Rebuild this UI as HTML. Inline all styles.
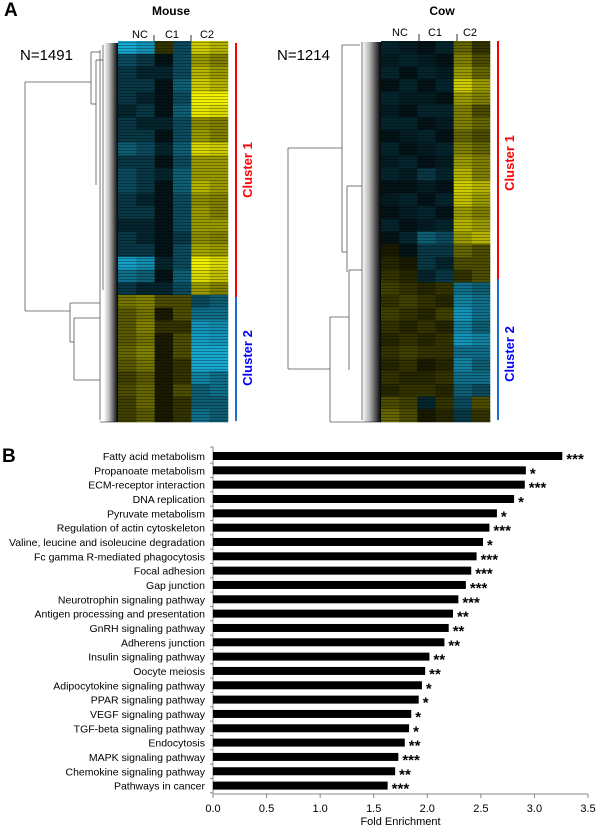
<!DOCTYPE html>
<html><head><meta charset="utf-8"><style>
body{margin:0;background:#fff;}
svg{display:block;font-family:"Liberation Sans",Arial,sans-serif;}
</style></head><body>
<svg id="fig" width="600" height="831" viewBox="0 0 600 831" xmlns="http://www.w3.org/2000/svg">
<defs>
<pattern id="stripes" width="6" height="3" patternUnits="userSpaceOnUse">
<rect x="0" y="0" width="6" height="1" fill="#000" opacity="0.3"/>
</pattern>
<linearGradient id="dendroDark" x1="0" x2="1" y1="0" y2="0">
<stop offset="0" stop-color="#000" stop-opacity="0"/>
<stop offset="0.4" stop-color="#000" stop-opacity="0.3"/>
<stop offset="1" stop-color="#000" stop-opacity="1"/>
</linearGradient>
</defs>
<text x="4" y="16" font-size="19" font-weight="bold">A</text>
<text x="2" y="462" font-size="19" font-weight="bold">B</text>
<g id="panelA"></g>
<g id="panelB"></g>
</svg>
<script>
// ---------- Panel A heatmap data (row bands × 6 columns: NC,NC,C1,C1,C2,C2) ----------
const mouseRows = [
[-0.9,-0.8,0.2,-0.4,0.8,0.7],[-0.4,-0.3,-0.1,-0.4,0.6,0.5],[-0.3,-0.2,-0.2,-0.4,0.7,0.6],
[-0.3,-0.3,-0.1,-0.5,0.8,0.7],[-0.3,-0.2,-0.1,-0.4,0.95,0.95],[-0.2,-0.3,-0.1,-0.5,0.9,0.85],
[-0.3,-0.2,-0.2,-0.4,0.55,0.5],[-0.3,-0.3,-0.1,-0.4,0.6,0.5],[-0.5,-0.4,-0.2,-0.5,0.85,0.8],
[-0.3,-0.3,-0.1,-0.4,0.6,0.6],[-0.4,-0.3,-0.2,-0.5,0.6,0.6],[-0.4,-0.3,-0.1,-0.5,0.7,0.6],
[-0.3,-0.2,-0.1,-0.4,0.55,0.5],[-0.3,-0.3,-0.1,-0.4,0.6,0.5],[-0.2,-0.2,-0.1,-0.4,0.6,0.6],
[-0.3,-0.2,-0.1,-0.3,0.55,0.5],[-0.3,-0.3,-0.1,-0.4,0.65,0.6],[-0.85,-0.75,-0.2,-0.4,0.95,0.85],
[-0.6,-0.5,-0.1,-0.5,0.85,0.75],[-0.3,-0.2,-0.2,-0.4,0.6,0.5],
[0.45,0.5,0.3,0.3,-0.4,-0.5],[0.35,0.45,0.1,0.3,-0.6,-0.6],[0.35,0.5,0.2,0.2,-0.8,-0.75],
[0.35,0.45,0.1,0.3,-0.85,-0.8],[0.4,0.5,0.1,0.3,-0.9,-0.9],[0.35,0.45,0.1,0.2,-0.9,-0.9],
[0.25,0.35,0.1,0.2,-0.7,-0.6],[0.3,0.4,0.1,0.3,-0.5,-0.6],[0.25,0.4,0.1,0.2,-0.5,-0.5],
[0.25,0.35,0.1,0.2,-0.6,-0.5]
];
const cowRows = [
[-0.2,-0.15,-0.1,-0.2,0.4,0.2],[-0.15,-0.2,-0.15,-0.1,0.5,0.3],[-0.2,-0.1,-0.2,-0.15,0.6,0.4],
[-0.1,-0.2,-0.1,-0.2,0.8,0.6],[-0.2,-0.15,-0.15,-0.1,0.6,0.5],[-0.15,-0.1,-0.2,-0.2,0.5,0.3],
[-0.2,-0.2,-0.1,-0.15,0.5,0.4],[-0.1,-0.15,-0.2,-0.1,0.4,0.3],[-0.2,-0.1,-0.15,-0.2,0.5,0.4],
[-0.15,-0.2,-0.1,-0.15,0.6,0.5],[-0.2,-0.15,-0.3,-0.2,0.7,0.5],[-0.1,-0.1,-0.15,-0.1,0.8,0.7],
[-0.15,-0.2,-0.1,-0.2,0.75,0.6],[-0.1,-0.15,-0.2,-0.1,0.6,0.5],[-0.2,-0.1,-0.15,-0.2,0.7,0.6],
[-0.1,-0.2,-0.5,-0.4,0.6,0.7],[0.1,-0.1,-0.3,-0.3,0.4,0.3],[0.15,0.1,-0.3,-0.2,0.3,0.3],
[0.2,0.15,-0.2,-0.3,0.2,0.3],
[0.25,0.2,0.15,0.2,-0.6,-0.5],[0.2,0.25,0.2,0.15,-0.7,-0.6],[0.25,0.2,0.15,0.25,-0.8,-0.6],
[0.2,0.15,0.2,0.15,-0.7,-0.5],[0.15,0.2,0.15,0.2,-0.8,-0.7],[0.2,0.25,0.2,0.2,-0.6,-0.6],
[0.15,0.2,0.1,0.15,-0.7,-0.5],[0.2,0.15,0.15,0.2,-0.6,-0.6],[0.15,0.2,0.2,0.15,-0.5,-0.4],
[0.3,0.25,-0.2,0.2,-0.4,0.3],[0.4,0.3,0.1,0.15,-0.3,0.2]
];
// ---------- Panel B bar data ----------
const pathways = ["Fatty acid metabolism","Propanoate metabolism","ECM-receptor interaction","DNA replication","Pyruvate metabolism","Regulation of actin cytoskeleton","Valine, leucine and isoleucine degradation","Fc gamma R-mediated phagocytosis","Focal adhesion","Gap junction","Neurotrophin signaling pathway","Antigen processing and presentation","GnRH signaling pathway","Adherens junction","Insulin signaling pathway","Oocyte meiosis","Adipocytokine signaling pathway","PPAR signaling pathway","VEGF signaling pathway","TGF-beta signaling pathway","Endocytosis","MAPK signaling pathway","Chemokine signaling pathway","Pathways in cancer"];
const foldValues = [3.26,2.92,2.91,2.81,2.65,2.58,2.52,2.46,2.41,2.36,2.29,2.24,2.20,2.16,2.02,1.98,1.95,1.92,1.85,1.83,1.79,1.73,1.70,1.63];
const stars = ["***","*","***","*","*","***","*","***","***","***","***","**","**","**","**","**","*","*","*","*","**","***","**","***"];
const xTicks = ["0.0","0.5","1.0","1.5","2.0","2.5","3.0","3.5"];

const NS="http://www.w3.org/2000/svg";
function mk(tag, attrs, parent){const e=document.createElementNS(NS,tag);for(const k in attrs)e.setAttribute(k,attrs[k]);parent.appendChild(e);return e;}
function col(v){
  if(v>=0){const c=Math.round(255*Math.min(1,v));return `rgb(${c},${c},0)`;}
  const a=Math.min(1,-v);return `rgb(${Math.round(25*a)},${Math.round(185*a)},${Math.round(230*a)})`;
}
const A=document.getElementById('panelA');
function heatmap(rows, x0, x1, y0, y1, name){
  const g=mk('g',{},A);
  
  
  const nc=rows[0].length, cw=(x1-x0)/nc, rh=(y1-y0)/rows.length;
  mk('rect',{x:x0,y:y0,width:x1-x0,height:y1-y0,fill:'#000'},g);
  rows.forEach((r,i)=>r.forEach((v,j)=>{
    const c=mk('rect',{x:x0+j*cw,y:y0+i*rh,width:cw+0.3,height:rh+0.3,fill:col(v)},g);
    
    
  }));
  mk('rect',{x:x0,y:y0,width:x1-x0,height:y1-y0,fill:'url(#stripes)'},g);
  return g;
}
function line(x1,y1,x2,y2,stroke,w,parent){return mk('line',{x1,y1,x2,y2,stroke,'stroke-width':w},parent||A);}
function txt(x,y,s,attrs,name){const t=mk('text',Object.assign({x,y},attrs),A);t.textContent=s;return t;}

// Mouse
heatmap(mouseRows,118,228,41,422,'mouse-heatmap');
txt(171,15,'Mouse',{'font-size':12,'font-weight':'bold','text-anchor':'middle'},'mouse-title');
txt(140,38,'NC',{'font-size':11,'text-anchor':'middle'},'mouse-nc-label');
txt(172,38,'C1',{'font-size':11,'text-anchor':'middle'},'mouse-c1-label');
txt(207,38,'C2',{'font-size':11,'text-anchor':'middle'},'mouse-c2-label');
line(154,35,154,41,'#000',0.8);line(191,35,191,41,'#000',0.8);
txt(20,60,'N=1491',{'font-size':15},'mouse-n-label');
line(236,43,236,297,'#f00',2);line(236,297,236,421,'#1e6fd0',2);
txt(252,170,'Cluster 1',{'font-size':13,'font-weight':'bold',fill:'#f00','text-anchor':'middle',transform:'rotate(-90 252 170)'},'mouse-cluster1-label');
txt(252,358,'Cluster 2',{'font-size':13,'font-weight':'bold',fill:'#00f','text-anchor':'middle',transform:'rotate(-90 252 358)'},'mouse-cluster2-label');
const md=mk('g',{},A);
[[25,82,25,311],[25,82,91,82],[25,311,70,311],[91,52,91,104],[91,52,100,52],[91,104,96,104],[96,60,96,185],[96,60,103,60],[70,303,70,342],[70,303,100,303],[70,342,74,342],[74,318,74,380],[74,318,100,318],[74,380,100,380],[100,50,100,420],[100,422,118,422],[103,45,103,290]].forEach(l=>line(l[0],l[1],l[2],l[3],'#555',0.8,md));
mk('rect',{x:104,y:43,width:14,height:379,fill:'url(#dendroDark)'},md);

// Cow
heatmap(cowRows,381,490,41,422,'cow-heatmap');
txt(442,15,'Cow',{'font-size':12,'font-weight':'bold','text-anchor':'middle'},'cow-title');
txt(400,36,'NC',{'font-size':11,'text-anchor':'middle'},'cow-nc-label');
txt(435,36,'C1',{'font-size':11,'text-anchor':'middle'},'cow-c1-label');
txt(470,36,'C2',{'font-size':11,'text-anchor':'middle'},'cow-c2-label');
line(419,34,419,41,'#000',0.8);line(457,34,457,41,'#000',0.8);
txt(277,60,'N=1214',{'font-size':15},'cow-n-label');
line(498,41,498,279,'#f00',2);line(498,279,498,420,'#1e6fd0',2);
txt(514,163,'Cluster 1',{'font-size':13,'font-weight':'bold',fill:'#f00','text-anchor':'middle',transform:'rotate(-90 514 163)'},'cow-cluster1-label');
txt(514,354,'Cluster 2',{'font-size':13,'font-weight':'bold',fill:'#00f','text-anchor':'middle',transform:'rotate(-90 514 354)'},'cow-cluster2-label');
const cd=mk('g',{},A);
[[288,148,288,369],[288,148,342,148],[288,369,330,369],[342,45,342,252],[342,45,360,45],[342,252,347,252],[347,186,347,272],[347,186,362,186],[330,317,330,422],[330,317,349,317],[330,422,381,422],[349,270,349,370],[349,270,362,270],[362,42,362,420]].forEach(l=>line(l[0],l[1],l[2],l[3],'#555',0.8,cd));
mk('rect',{x:362,y:42,width:19,height:380,fill:'url(#dendroDark)'},cd);

// ---------- Panel B ----------
const B=document.getElementById('panelB');
const x0=213, pxPerUnit=(588-213)/3.5, yFirst=456;
const rowStep=14.33;
const xs=v=>x0+v*pxPerUnit, ys=i=>yFirst+i*rowStep;
const axisY=794;
const ax=mk('line',{x1:x0,y1:axisY,x2:588,y2:axisY,stroke:'#888','stroke-width':1},B);

const ay=mk('line',{x1:x0,y1:447,x2:x0,y2:axisY,stroke:'#888','stroke-width':1},B);

mk('line',{x1:x0-3,y1:447,x2:x0,y2:447,stroke:'#888'},B);
xTicks.forEach((t,i)=>{
  const v=parseFloat(t);
  mk('line',{x1:xs(v),y1:axisY,x2:xs(v),y2:axisY+4,stroke:'#888'},B);
  const tx=mk('text',{x:xs(v),y:axisY+18,'font-size':11,'text-anchor':'middle'},B);tx.textContent=t;
  
  
});
const xt=mk('text',{x:xs(1.75),y:axisY+31,'font-size':11,'text-anchor':'middle'},B);xt.textContent='Fold Enrichment';

pathways.forEach((p,i)=>{
  const y=ys(i);
  mk('line',{x1:x0-3,y1:y+rowStep/2,x2:x0,y2:y+rowStep/2,stroke:'#888'},B);
  const lab=mk('text',{x:205,y:y+4,'font-size':10.5,'text-anchor':'end'},B);lab.textContent=p;
  
  
  const bar=mk('rect',{x:x0,y:y-4,width:xs(foldValues[i])-x0,height:8,fill:'#000'},B);
  
  
  const st=mk('text',{x:xs(foldValues[i])+4,y:y+8,'font-size':15,'font-weight':'bold'},B);st.textContent=stars[i];
  
  
});
</script>
</body></html>
